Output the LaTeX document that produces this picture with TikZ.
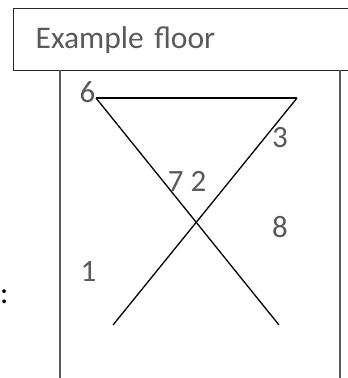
\documentclass[tikz,border=0pt]{standalone}
\usepackage{fontspec}
\setmainfont{Carlito}
\definecolor{labelgray}{HTML}{595959}
\definecolor{wallgray}{HTML}{5A5A5A}
\tikzset{
  num/.style={text=labelgray, inner sep=0pt, font=\fontsize{31}{31}\selectfont},
  wall/.style={draw=wallgray, line width=1.2pt},
  cut/.style={draw=black, line width=1.3pt}
}
\begin{document}
\begin{tikzpicture}[x=1pt,y=-1pt]
  \useasboundingbox (0,0) rectangle (348,378);
  % title box
  \node[draw=black!85, line width=1.3pt, anchor=north west, minimum width=350pt,
        minimum height=62pt, text width=310pt, align=left, inner xsep=22pt,
        text=labelgray, font=\fontsize{31.5}{31.5}\selectfont] (title) at (13,8) {Example floor};
  % walls
  \coordinate (wl1) at (60,70);
  \coordinate (wl2) at (60,378);
  \coordinate (wr1) at (340,70);
  \coordinate (wr2) at (340,378);
  \draw[wall] (wl1) -- (wl2);
  \draw[wall] (wr1) -- (wr2);
  % the cut
  \coordinate (A) at (96,98);
  \coordinate (B) at (297,98);
  \coordinate (C) at (279,325);
  \coordinate (D) at (113,325);
  \draw[cut] (A) -- (B);
  \draw[cut] (A) -- (C);
  \draw[cut] (B) -- (D);
  % labels
  \node[num] (n6) at (87.5,92) {6};
  \node[num] (n3) at (280,138) {3};
  \node[num] (n72) at (187,181) {7 2};
  \node[num] (n8) at (280,227) {8};
  \node[num] (n1) at (88.5,272) {1};
  \node[inner sep=0pt, anchor=west, font=\fontsize{31}{31}\selectfont] (colon) at (0,297) {:};
\end{tikzpicture}
\end{document}
